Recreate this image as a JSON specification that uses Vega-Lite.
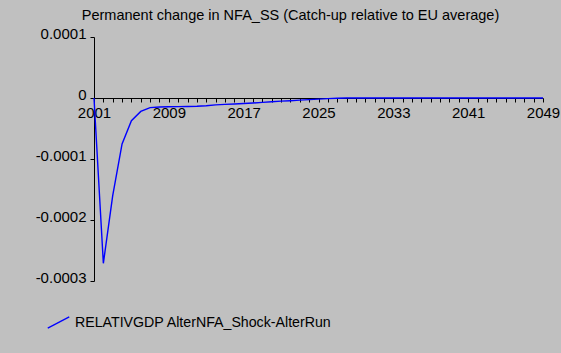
{
  "$schema": "https://vega.github.io/schema/vega-lite/v6.json",
  "autosize": {"type": "none"},
  "padding": {"left": 94, "top": 37, "right": 18, "bottom": 72},
  "width": 449,
  "height": 244,
  "background": "#c0c0c0",
  "title": {
    "text": "Permanent change in NFA_SS (Catch-up relative to EU average)",
    "anchor": "middle",
    "frame": "group",
    "dx": -28,
    "offset": 3,
    "font": "Liberation Sans",
    "fontSize": 14.5,
    "fontWeight": "normal",
    "color": "#000000"
  },
  "config": {
    "view": {"stroke": null},
    "axis": {
      "grid": false,
      "domainColor": "#000000",
      "tickColor": "#000000",
      "labelColor": "#000000",
      "labelFont": "Liberation Sans",
      "labelFontSize": 15,
      "domainWidth": 1,
      "tickWidth": 1,
      "tickSize": 4,
      "title": null
    }
  },
  "data": {
    "values": [
      {"year": 2001, "value": 0, "series": "RELATIVGDP AlterNFA_Shock-AlterRun"},
      {"year": 2002, "value": -0.000271, "series": "RELATIVGDP AlterNFA_Shock-AlterRun"},
      {"year": 2003, "value": -0.00016, "series": "RELATIVGDP AlterNFA_Shock-AlterRun"},
      {"year": 2004, "value": -0.0000754, "series": "RELATIVGDP AlterNFA_Shock-AlterRun"},
      {"year": 2005, "value": -0.0000372, "series": "RELATIVGDP AlterNFA_Shock-AlterRun"},
      {"year": 2006, "value": -0.000022, "series": "RELATIVGDP AlterNFA_Shock-AlterRun"},
      {"year": 2007, "value": -0.0000158, "series": "RELATIVGDP AlterNFA_Shock-AlterRun"},
      {"year": 2008, "value": -0.0000148, "series": "RELATIVGDP AlterNFA_Shock-AlterRun"},
      {"year": 2009, "value": -0.0000143, "series": "RELATIVGDP AlterNFA_Shock-AlterRun"},
      {"year": 2010, "value": -0.0000142, "series": "RELATIVGDP AlterNFA_Shock-AlterRun"},
      {"year": 2011, "value": -0.000014, "series": "RELATIVGDP AlterNFA_Shock-AlterRun"},
      {"year": 2012, "value": -0.0000136, "series": "RELATIVGDP AlterNFA_Shock-AlterRun"},
      {"year": 2013, "value": -0.0000126, "series": "RELATIVGDP AlterNFA_Shock-AlterRun"},
      {"year": 2014, "value": -0.0000112, "series": "RELATIVGDP AlterNFA_Shock-AlterRun"},
      {"year": 2015, "value": -0.0000104, "series": "RELATIVGDP AlterNFA_Shock-AlterRun"},
      {"year": 2016, "value": -0.0000098, "series": "RELATIVGDP AlterNFA_Shock-AlterRun"},
      {"year": 2017, "value": -0.000009, "series": "RELATIVGDP AlterNFA_Shock-AlterRun"},
      {"year": 2018, "value": -0.0000082, "series": "RELATIVGDP AlterNFA_Shock-AlterRun"},
      {"year": 2019, "value": -0.0000072, "series": "RELATIVGDP AlterNFA_Shock-AlterRun"},
      {"year": 2020, "value": -0.0000062, "series": "RELATIVGDP AlterNFA_Shock-AlterRun"},
      {"year": 2021, "value": -0.0000052, "series": "RELATIVGDP AlterNFA_Shock-AlterRun"},
      {"year": 2022, "value": -0.0000044, "series": "RELATIVGDP AlterNFA_Shock-AlterRun"},
      {"year": 2023, "value": -0.0000035, "series": "RELATIVGDP AlterNFA_Shock-AlterRun"},
      {"year": 2024, "value": -0.0000026, "series": "RELATIVGDP AlterNFA_Shock-AlterRun"},
      {"year": 2025, "value": -0.0000018, "series": "RELATIVGDP AlterNFA_Shock-AlterRun"},
      {"year": 2026, "value": -0.000001, "series": "RELATIVGDP AlterNFA_Shock-AlterRun"},
      {"year": 2027, "value": -0.0000004, "series": "RELATIVGDP AlterNFA_Shock-AlterRun"},
      {"year": 2028, "value": -0.0000001, "series": "RELATIVGDP AlterNFA_Shock-AlterRun"},
      {"year": 2030, "value": 0, "series": "RELATIVGDP AlterNFA_Shock-AlterRun"},
      {"year": 2035, "value": 0, "series": "RELATIVGDP AlterNFA_Shock-AlterRun"},
      {"year": 2040, "value": 0, "series": "RELATIVGDP AlterNFA_Shock-AlterRun"},
      {"year": 2045, "value": 0, "series": "RELATIVGDP AlterNFA_Shock-AlterRun"},
      {"year": 2049, "value": 0, "series": "RELATIVGDP AlterNFA_Shock-AlterRun"}
    ]
  },
  "mark": {"type": "line", "strokeWidth": 1.4},
  "encoding": {
    "x": {
      "field": "year",
      "type": "quantitative",
      "scale": {"domain": [2001, 2049], "nice": false, "zero": false},
      "axis": {
        "orient": "bottom",
        "offset": -183,
        "values": [2001,2002,2003,2004,2005,2006,2007,2008,2009,2010,2011,2012,2013,2014,2015,2016,2017,2018,2019,2020,2021,2022,2023,2024,2025,2026,2027,2028,2029,2030,2031,2032,2033,2034,2035,2036,2037,2038,2039,2040,2041,2042,2043,2044,2045,2046,2047,2048,2049],
        "labelExpr": "(datum.value - 2001) % 8 == 0 ? format(datum.value, 'd') : ''",
        "labelOverlap": false,
        "labelFlush": false,
        "labelPadding": 3
      }
    },
    "y": {
      "field": "value",
      "type": "quantitative",
      "scale": {"domain": [-0.0003, 0.0001], "nice": false, "zero": false},
      "axis": {
        "values": [-0.0003, -0.0002, -0.0001, 0, 0.0001],
        "labelExpr": "datum.value == 0 ? '0' : (datum.value < 0 ? '-' + format(-datum.value, '.4f') : format(datum.value, '.4f'))",
        "labelBaseline": "alphabetic",
        "labelOffset": 1,
        "labelPadding": 4
      }
    },
    "color": {
      "field": "series",
      "type": "nominal",
      "scale": {"range": ["#0000ff"]},
      "legend": {
        "title": null,
        "orient": "none",
        "legendX": -47,
        "legendY": 274,
        "symbolType": "M-1,0.53L1,-0.53",
        "symbolSize": 462,
        "symbolStrokeWidth": 1.3,
        "symbolFillColor": "transparent",
        "labelFont": "Liberation Sans",
        "labelFontSize": 14.2,
        "labelColor": "#000000",
        "labelOffset": 5,
        "labelLimit": 400
      }
    }
  }
}
